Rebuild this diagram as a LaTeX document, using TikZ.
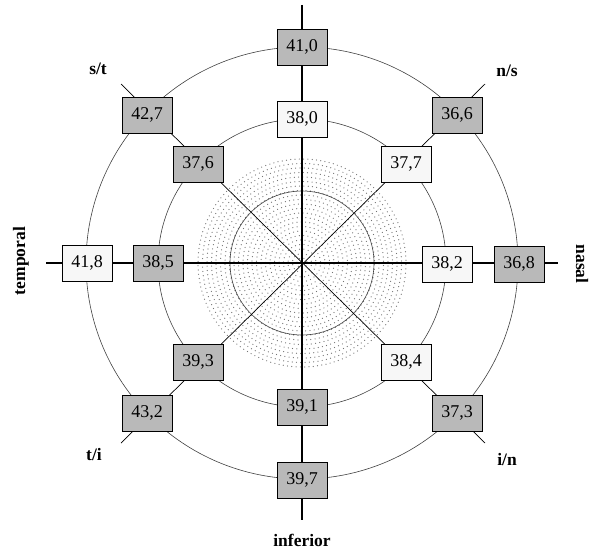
\documentclass[tikz,border=0pt]{standalone}
\usepackage{fontspec}
\setmainfont{Liberation Serif}
\begin{document}
\begin{tikzpicture}[x=1pt,y=-1pt,
  val/.style={draw=black, line width=0.9pt, minimum width=50pt, minimum height=36pt, inner sep=0pt, font=\fontsize{18}{20}\selectfont},
  dark/.style={val, fill=gray!55},
  light/.style={val, fill=gray!6},
  lab/.style={font=\fontsize{17.5}{20}\selectfont\bfseries, inner sep=1pt},
  axis/.style={line width=1.1pt},
  diag/.style={line width=0.7pt},
  ring/.style={line width=0.6pt, draw=black!75},
  stip/.style={fill=black!55}]
\useasboundingbox (0,0) rectangle (591,551);
\coordinate (O) at (302,263);
% stippled disk
\foreach \r in {5,9.5,...,108} {
  \pgfmathtruncatemacro\n{round(2*pi*\r/4.3)}
  \pgfmathsetmacro\st{360/\n}
  \pgfmathsetmacro\off{mod(\r*7,360)}
  \foreach \i in {1,...,\n} {
    \pgfmathsetmacro\ang{\off+\i*\st}
    \fill[stip] (O) ++(\ang:\r) circle (0.62pt);
  }
}
% axis ends
\coordinate (eN) at (302,5);
\coordinate (eS) at (302,520);
\coordinate (eW) at (46,263);
\coordinate (eE) at (558,263);
\coordinate (eNW) at (121,84);
\coordinate (eNE) at (485,84);
\coordinate (eSW) at (121,443);
\coordinate (eSE) at (485,443);
% rings
\draw[ring] (O) circle (72);
\draw[ring] (O) circle (144);
\draw[ring] (O) circle (216);
% axes
\draw[diag] (eNW) -- (eSE);
\draw[diag] (eNE) -- (eSW);
\draw[axis] (eN) -- (eS);
\draw[axis] (eW) -- (eE);
% value boxes
\node[dark]  (n410) at (302,47)  {41,0};
\node[light] (n380) at (302,119) {38,0};
\node[dark]  (s391) at (302,407) {39,1};
\node[dark]  (s397) at (302,480) {39,7};
\node[light] (w418) at (87,263)  {41,8};
\node[dark]  (w385) at (158,263) {38,5};
\node[light] (e382) at (447,264) {38,2};
\node[dark]  (e368) at (519,264) {36,8};
\node[dark]  (nw427) at (147,115) {42,7};
\node[dark]  (nw376) at (198,164) {37,6};
\node[dark]  (ne366) at (457,115) {36,6};
\node[light] (ne377) at (406,164) {37,7};
\node[dark]  (sw393) at (198,362) {39,3};
\node[dark]  (sw432) at (147,413) {43,2};
\node[light] (se384) at (406,362) {38,4};
\node[dark]  (se373) at (457,413) {37,3};
% labels
\node[lab] (lst) at (98,69) {s/t};
\node[lab] (lns) at (507,71) {n/s};
\node[lab] (lti) at (94,455) {t/i};
\node[lab] (lin) at (507,460) {i/n};
\node[lab, rotate=90] (ltemp) at (21,261) {temporal};
\node[lab, rotate=-90] (lnas) at (582,264) {nasal};
\node[lab] (linf) at (302,540) {inferior};
\end{tikzpicture}
\end{document}
